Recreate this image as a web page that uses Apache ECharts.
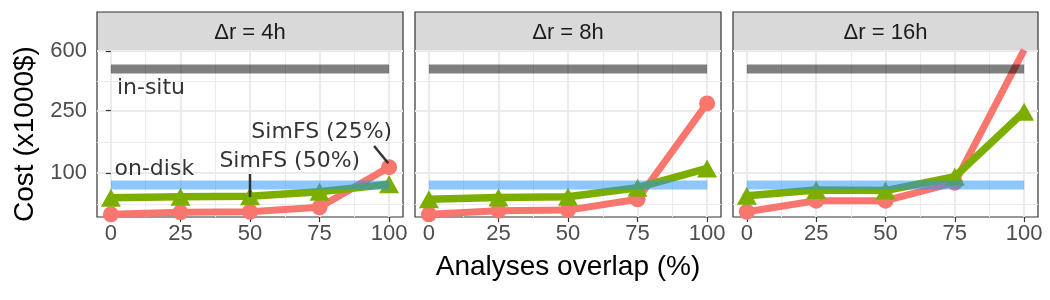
<!DOCTYPE html>
<html>
<head>
<meta charset="utf-8">
<script src="https://cdn.jsdelivr.net/npm/echarts@6/dist/echarts.min.js"></script>
<style>
  html, body { margin: 0; padding: 0; background: #fff; }
  #chart { width: 1050px; height: 300px; }
</style>
</head>
<body>
<div id="chart"></div>
<script>
// 数据
var overlap = [0, 25, 50, 75, 100];
var panelNames = ['Δr = 4h', 'Δr = 8h', 'Δr = 16h'];
var simfs25 = [
  [54.5, 56.1, 56.6, 60.4, 109],
  [54.5, 57.5, 58, 68, 278],
  [56.6, 66.6, 66.6, 86.7, 610]
];
var simfs50 = [
  [69.5, 70.6, 71, 76, 84.7],
  [68, 69.9, 70.6, 80.6, 107],
  [71.6, 77.9, 77.2, 94.7, 246]
];
var inSitu = 460;
var onDisk = 83.8;
var yTicks = [100, 250, 600];
var yMinor = [63.2, 158.1, 387.3];
var xTicks = [0, 25, 50, 75, 100];
var xMinor = [12.5, 37.5, 62.5, 87.5];

// 注释 (只在第一个面板)
var notes = [
  { name: 'in-situ', value: [14.4, 348] },
  { name: 'on-disk', value: [15.6, 106] },
  { name: 'SimFS (50%)', value: [64.3, 118] },
  { name: 'SimFS (25%)', value: [75.8, 182] }
];
var noteSegments = [
  [[50, 98.5], [50, 70.3]],
  [[94.6, 148.6], [99.7, 115.3]]
];

var axisFont = 'Liberation Sans';
var noteFont = 'DejaVu Sans';
var gridLeft = [97, 415, 733];
var gridWidth = [306, 306, 305];
var gridTop = 51, gridHeight = 166;

var grids = [], xAxes = [], yAxes = [], series = [], graphics = [];

for (var i = 0; i < 3; i++) {
  grids.push({
    left: gridLeft[i], top: gridTop, width: gridWidth[i], height: gridHeight,
    show: true, borderColor: '#333333', borderWidth: 1.2, backgroundColor: '#fff'
  });
  // minor grid axes
  xAxes.push({
    type: 'value', gridIndex: i, position: 'bottom', min: -5, max: 105,
    axisLine: { show: false }, axisLabel: { show: false, customValues: xMinor },
    axisTick: { show: false, customValues: xMinor },
    splitLine: { show: true, lineStyle: { color: '#EBEBEB', width: 1 } }
  });
  yAxes.push({
    type: 'log', logBase: 10, gridIndex: i, position: 'left', min: 52.4, max: 600,
    axisLine: { show: false }, axisLabel: { show: false, customValues: yMinor },
    axisTick: { show: false, customValues: yMinor },
    splitLine: { show: true, lineStyle: { color: '#EBEBEB', width: 1 } }
  });
  // major axes
  xAxes.push({
    type: 'value', gridIndex: i, position: 'bottom', min: -5, max: 105,
    axisLine: { show: false },
    axisTick: { show: true, length: 5, customValues: xTicks, lineStyle: { color: '#333333', width: 1.2 } },
    axisLabel: {
      customValues: xTicks, margin: 6, color: '#4D4D4D', fontSize: 22, fontFamily: axisFont,
      formatter: function (v) { return String(v); }
    },
    splitLine: { show: true, lineStyle: { color: '#EBEBEB', width: 2 } },
    name: i === 1 ? 'Analyses overlap (%)' : '',
    nameLocation: 'middle', nameGap: 36,
    nameTextStyle: { color: '#000', fontSize: 28, fontFamily: axisFont }
  });
  yAxes.push({
    type: 'log', logBase: 10, gridIndex: i, position: 'left', min: 52.4, max: 600,
    axisLine: { show: false },
    axisTick: { show: i === 0, length: 5, customValues: yTicks, lineStyle: { color: '#333333', width: 1.2 } },
    axisLabel: {
      show: i === 0, customValues: yTicks, margin: 10, color: '#4D4D4D', fontSize: 22, fontFamily: axisFont,
      formatter: function (v) { return String(Math.round(v)); }
    },
    splitLine: { show: true, lineStyle: { color: '#EBEBEB', width: 2 } },
    name: i === 0 ? 'Cost (x1000$)' : '',
    nameLocation: 'middle', nameGap: 58,
    nameTextStyle: { color: '#000', fontSize: 28, fontFamily: axisFont }
  });

  var xi = i * 2 + 1, yi = i * 2 + 1;

  series.push({
    type: 'line', xAxisIndex: xi, yAxisIndex: yi,
    data: overlap.map(function (x, k) { return [x, simfs25[i][k]]; }),
    symbol: 'circle', symbolSize: 16,
    lineStyle: { color: '#F8766D', width: 7 },
    itemStyle: { color: '#F8766D' },
    z: 3, silent: true, animation: false
  });
  series.push({
    type: 'line', xAxisIndex: xi, yAxisIndex: yi,
    data: overlap.map(function (x, k) { return [x, simfs50[i][k]]; }),
    symbol: 'triangle', symbolSize: [20, 18],
    lineStyle: { color: '#7CAE00', width: 7.5 },
    itemStyle: { color: '#7CAE00' },
    z: 4, silent: true, animation: false
  });
  series.push({
    type: 'line', xAxisIndex: xi, yAxisIndex: yi,
    data: [[overlap[0], inSitu], [overlap[overlap.length - 1], inSitu]],
    symbol: 'none',
    lineStyle: { color: '#000000', opacity: 0.5, width: 9, cap: 'butt' },
    z: 5, silent: true, animation: false
  });
  series.push({
    type: 'line', xAxisIndex: xi, yAxisIndex: yi,
    data: [[overlap[0], onDisk], [overlap[overlap.length - 1], onDisk]],
    symbol: 'none',
    lineStyle: { color: '#1E90FF', opacity: 0.5, width: 9, cap: 'butt' },
    z: 5, silent: true, animation: false
  });

  // 面板标题条
  graphics.push({
    type: 'rect', silent: true,
    shape: { x: gridLeft[i], y: 12, width: gridWidth[i], height: gridTop - 12 },
    style: { fill: '#D9D9D9', stroke: '#333333', lineWidth: 1.2 }
  });
  graphics.push({
    type: 'text', silent: true,
    x: gridLeft[i] + gridWidth[i] / 2, y: 12 + (gridTop - 12) / 2 + 1,
    style: {
      text: panelNames[i], fill: '#1A1A1A', fontSize: 22, fontFamily: axisFont,
      align: 'center', verticalAlign: 'middle'
    }
  });
}

// 注释线段
noteSegments.forEach(function (seg) {
  series.push({
    type: 'line', xAxisIndex: 1, yAxisIndex: 1, data: seg,
    symbol: 'none', lineStyle: { color: '#333333', width: 2.5 },
    z: 6, silent: true, animation: false
  });
});
// 注释文字
series.push({
  type: 'scatter', xAxisIndex: 1, yAxisIndex: 1, data: notes,
  symbolSize: 0, z: 7, silent: true, animation: false,
  label: {
    show: true, position: 'inside', formatter: '{b}',
    color: '#000000', fontSize: 22, fontFamily: noteFont
  }
});

var chart = echarts.init(document.getElementById('chart'), null, { renderer: 'canvas' });
chart.setOption({
  animation: false,
  grid: grids,
  xAxis: xAxes,
  yAxis: yAxes,
  series: series,
  graphic: graphics
});
</script>
</body>
</html>
